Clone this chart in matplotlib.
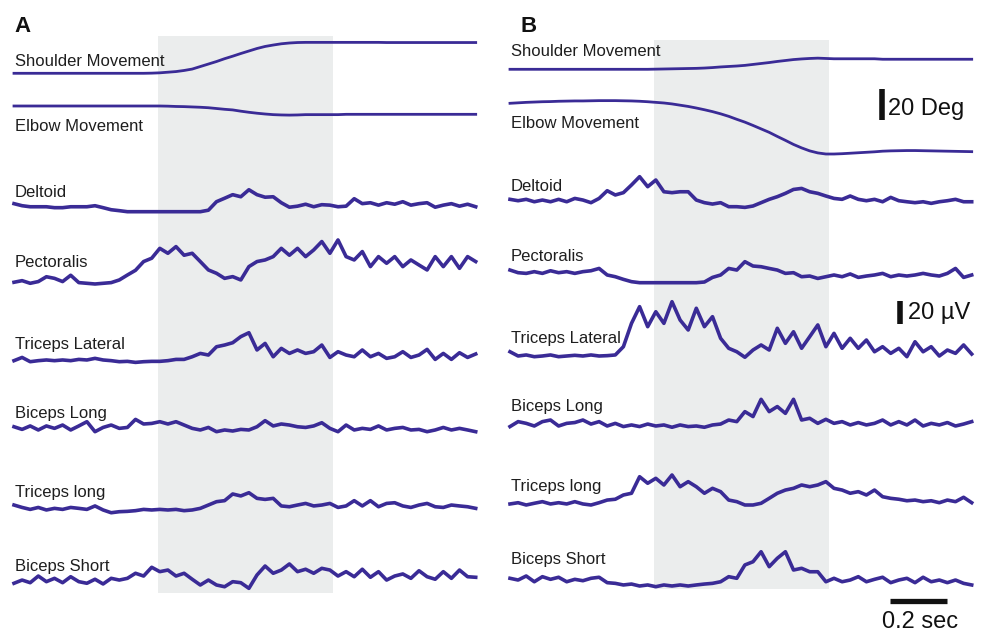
import numpy as np
import matplotlib.pyplot as plt

plt.rcParams['font.family'] = ['Liberation Sans', 'DejaVu Sans']

# sampling of every trace: 58 samples over the 1.62 s shown per panel
N_SAMPLES = 58
DURATION = 1.62
time = np.linspace(0, DURATION, N_SAMPLES)
movement_window = (0.505, 1.118)   # shaded part, s

# joint angles, deg (relative to start)
shoulder_a = [0]*17 + [0.1, 0.3, 0.7, 1.1, 1.8, 2.7, 4.3, 5.9, 7.5, 9.3, 10.9, 12.6, 14.2, 15.8, 17.1,
                       18.0, 18.8, 19.3, 19.6] + [19.7]*10 + [19.6]*12
elbow_a = [0]*19 + [-0.1, -0.3, -0.4, -0.6, -0.8, -1.1, -1.6, -2.1, -2.5, -3.3, -4.0, -4.6, -5.1, -5.5,
                    -5.7, -5.8, -5.7] + [-5.5]*5 + [-5.3]*17
shoulder_b = [0]*18 + [0.1, 0.2, 0.3, 0.4, 0.5, 0.6, 0.8, 1.1, 1.5, 1.8, 2.1, 2.5, 3.1, 3.7, 4.3, 5.0,
                       5.6, 6.2, 6.6, 6.9, 7.1, 6.9] + [6.7]*6 + [6.4]*12
elbow_b = [0, 0.3, 0.6, 0.8, 1.0, 1.1, 1.3, 1.4, 1.5, 1.5, 1.6, 1.7, 1.7, 1.7, 1.6, 1.5, 1.3, 1.0, 0.6,
           0.2, -0.4, -1.2, -2.0, -3.0, -4.1, -5.3, -6.7, -8.3, -10.2, -12.0, -14.1, -16.3, -18.5, -21.1,
           -23.6, -26.2, -28.4, -30.3, -31.6, -32.3, -32.3, -32.1, -31.8, -31.5, -31.2, -30.9, -30.5,
           -30.3, -30.2, -30.1, -30.1, -30.2, -30.3, -30.4, -30.5, -30.6, -30.7, -30.8]

# rectified EMG, uV above resting level
deltoid_a = [7, 5.2, 4.3, 4.3, 4.3, 3.5, 3.5, 4.3, 4.3, 4.3, 5.2, 3.5, 1.7, 0.9] + [0]*10 + [
    1.3, 8.7, 11.7, 14.8, 13, 19.1, 14.8, 12.6, 13, 7.8, 3.9, 4.8, 6.5, 4.3, 6.1, 5.7, 4.3, 4.8, 11.3,
    7, 7.8, 5.7, 7.8, 6.5, 8.7, 5.7, 7, 7.8, 3.9, 5.7, 7, 4.8, 6.5, 4.3]
pectoralis_a = [0.9, 2.3, 0, 1.5, 5.7, 4.3, 1.5, 7, 0.6, 0, -0.6, 0, 0.6, 2.9, 7.2, 11.3, 18.9, 21.8,
                30.4, 26.1, 31.9, 24.4, 26.1, 18.9, 11.6, 8.7, 4.3, 5.8, 2.9, 14.5, 18.9, 20.3, 23.2,
                30.4, 24.4, 30.4, 23.2, 29, 36.3, 26.1, 37.7, 23.2, 20.3, 27.6, 14.5, 23.2, 17.4, 23.2,
                14.5, 20.3, 15.9, 11.6, 23.2, 14.5, 23.2, 13, 23.2, 18.9]
tri_lat_a = [0.9, 3.7, 0, 0.9, 1.5, 0.9, 1.5, 0.9, 2, 1.5, 2.9, 1.5, 0.9, 0, 0.3, -0.6, 0, 0.3, 0.3,
             0.9, 2, 2, 4.3, 7.2, 5.8, 13, 14.5, 16.5, 21.8, 25.2, 10.2, 15.9, 4.3, 11.6, 7.2, 10.2,
             7.2, 8.7, 14.5, 3.7, 8.7, 5.8, 4.3, 10.2, 4.3, 7.2, 2.9, 4.3, 8.7, 3.7, 5.8, 10.7, 2,
             7.2, 2, 7.8, 3.7, 6.7]
bic_long_a = [4.3, 2, 5, 1.5, 5, 2.9, 5.8, 1.5, 5, 8.7, 0, 3.7, 5.8, 2.9, 3.7, 10.7, 6.7, 7.2, 8.7,
              6.7, 8.7, 5.8, 2.9, 1.5, 3.7, 0, 1.5, 0.6, 2, 1.5, 4.3, 9.6, 5, 6.7, 5.8, 4.3, 3.7, 5,
              7.8, 2.9, 0, 5.8, 1.5, 2.9, 2, 5, 1.5, 2.9, 3.7, 1.5, 2, 0, 1.5, 3.7, 1.5, 2.9, 1.5, 0]
tri_long_a = [5.8, 3.7, 2, 3.7, 1.5, 2.9, 2, 3.7, 2.9, 2, 5, 1.5, -0.9, 0, 0.3, 0.9, 2, 1.5, 2, 1.5,
              2, 0.9, 1.5, 2.9, 5.8, 8.7, 9.6, 15.4, 13.7, 16.5, 11.6, 10.7, 11.6, 5, 4.3, 5.8, 7.2,
              5, 5.8, 7.2, 3.7, 5, 9.6, 5, 9.6, 4.3, 7.2, 7.8, 5, 3.7, 5.8, 7.2, 4.3, 3.7, 5.8, 5,
              4.3, 2.9]
bic_short_a = [1.5, 4.3, 2, 7.8, 2.9, 5.8, 2, 7.2, 2.9, 1.5, 5, 0.9, 5.8, 4.3, 5.8, 10.2, 7.8, 15.4,
               11.6, 13, 7.8, 10.2, 5, 0, 4.3, 0, -1.5, 2.9, 2, -2.9, 8.7, 16.5, 10.2, 13, 18.3, 11.6,
               13.7, 10.2, 14.5, 13, 7.8, 11.6, 7.2, 13.7, 6.7, 11.6, 4.3, 7.8, 9.6, 5.8, 12.4, 7.2,
               5, 11.6, 5.8, 13, 7.2, 6.7]

deltoid_b = [6.4, 5.2, 6.4, 4.3, 5.8, 4.3, 6.4, 4.3, 7.2, 5.8, 3.5, 7.2, 13.9, 10.2, 12.2, 18.9, 26.1,
             17.4, 23.2, 13, 12.2, 13, 13, 5.8, 3.5, 2.3, 3.5, 0, 0, -0.6, 0.6, 3.5, 6.4, 8.7, 11.6,
             15, 15.9, 13, 11.6, 9.3, 7.2, 6.4, 9.3, 6.4, 5.2, 6.4, 4.3, 8.1, 5.2, 4.3, 3.5, 4.3, 2.9,
             4.3, 5.2, 6.4, 4.3, 4.3]
pectoralis_b = [11, 8.7, 8.1, 9.6, 8.1, 10.4, 8.7, 9.6, 8.1, 9.6, 10.4, 12.4, 6.7, 5.2, 2.9, 0.9] + \
    [0]*8 + [0.6, 4.6, 6.7, 12.4, 11, 18.3, 14.5, 13.9, 12.4, 11, 8.1, 8.7, 5.2, 5.8, 3.7, 5.2, 6.7,
             5.2, 7.6, 4.6, 5.8, 6.7, 8.1, 5.2, 6.7, 5.8, 6.7, 8.1, 6.7, 5.8, 8.1, 12.4, 4.6, 6.7]
tri_lat_b = [3.7, 0, 0.9, -0.6, 0, 0.9, -0.6, 0, 0.6, 0, 0.9, 0, 0.3, 0.9, 8.1, 28.4, 42.9, 25.5,
             38.5, 28.4, 47.2, 31.3, 22.6, 41.5, 25.5, 34.2, 15.4, 6.7, 3.7, -1.1, 5.2, 9.6, 5.2,
             24.1, 11, 21.1, 6.7, 16.8, 27, 8.1, 19.7, 6.7, 15.4, 6.7, 13.9, 3.7, 8.1, 2.3, 6.7,
             -0.6, 12.4, 3.7, 8.1, 0, 5.2, 2.3, 9.6, 1.7]
bic_long_b = [1.5, 5.8, 4.3, 2, 5.8, 7.2, 2, 4.3, 5, 7.2, 3.7, 5.8, 2, 4.3, 1.5, 2.9, 1.5, 3.7, 2,
              2.9, 0.9, 2.9, 1.5, 2, 0.9, 2.9, 3.7, 7.2, 5.8, 14.5, 10.2, 25.2, 14.5, 18.9, 13, 25.2,
              7.2, 8.7, 4.3, 7.8, 4.3, 5.8, 2.9, 5, 2.9, 4.3, 7.2, 2.9, 5.8, 2.9, 7.2, 2, 4.3, 2.9,
              5, 2, 3.7, 5.8]
tri_long_b = [0.9, 2, 0, 1.5, 2.9, 0.9, 2, 0.9, 2.9, 0.9, 0, 2, 4.3, 5, 8.7, 10.2, 24.6, 18.9, 23.2,
              17.4, 26.1, 15.9, 20.3, 15.9, 10.2, 14.5, 11.6, 4.3, 2.9, 0, 0, 1.5, 5.8, 10.2, 13,
              14.5, 17.4, 15.9, 17.4, 20.3, 14.5, 13, 10.2, 11.6, 8.7, 13, 7.2, 5.8, 5, 3.7, 4.3,
              2.9, 3.7, 2, 4.3, 2.9, 6.7, 2]
bic_short_b = [6.7, 5.2, 8.7, 3.7, 8.1, 5.8, 7.6, 3.7, 5.8, 4.6, 6.7, 7.6, 2.9, 2.3, 0.9, 1.7, 0, 0.9,
               -0.6, 0.9, 0, 0.9, 0, 0.9, 1.7, 2.3, 3.7, 8.1, 6.7, 18.3, 21.1, 29.8, 16.8, 24.1, 29.8,
               13.9, 15.4, 12.4, 12.4, 3.7, 6.7, 3.7, 5.2, 8.1, 3.7, 5.8, 7.6, 2.9, 5.2, 6.7, 2.9,
               7.6, 3.7, 5.2, 2.9, 5.2, 2.3, 0.9]

movement_names = ['Shoulder Movement', 'Elbow Movement']
muscle_names = ['Deltoid', 'Pectoralis', 'Triceps Lateral', 'Biceps Long', 'Triceps long', 'Biceps Short']

# ---- layout (pixel rows of the 981x634 figure) ----
W, H = 981, 634
PX_PER_S = 285.0
PX_PER_UV = 1.15
PX_PER_DEG = 1.57
COLOR = '#3a2b96'
SHADE = '#ebeded'

panels = [
    dict(letter='A', left=14, traces=[shoulder_a, elbow_a, deltoid_a, pectoralis_a, tri_lat_a,
                                      bic_long_a, tri_long_a, bic_short_a],
         rows=[73.3, 106, 211.7, 283.3, 361.7, 431.7, 511.7, 585],
         label_rows=[66, 131, 197, 267, 349.3, 418.3, 496.7, 571],
         shade=(36, 593), letter_dx=0),
    dict(letter='B', left=510, traces=[shoulder_b, elbow_b, deltoid_b, pectoralis_b, tri_lat_b,
                                       bic_long_b, tri_long_b, bic_short_b],
         rows=[69.3, 103.3, 206.7, 282.7, 356, 428.3, 505, 586],
         label_rows=[56, 128.3, 191, 260.7, 343.3, 410.7, 490.7, 564],
         shade=(40, 589), letter_dx=10),
]

fig = plt.figure(figsize=(W / 100, H / 100), dpi=100)
fig.patch.set_facecolor('white')

for p in panels:
    width_px = DURATION * PX_PER_S
    ax = fig.add_axes([p['left'] / W, 0, width_px / W, 1])
    ax.set_xlim(0, DURATION)
    ax.set_ylim(H, 0)
    ax.axis('off')

    top, bottom = p['shade']
    ax.fill_between(movement_window, top, bottom, color=SHADE, lw=0, zorder=0)

    names = movement_names + muscle_names
    for k, (trace, row, lrow, name) in enumerate(zip(p['traces'], p['rows'], p['label_rows'], names)):
        scale = PX_PER_DEG if k < 2 else PX_PER_UV
        y = row - np.asarray(trace) * scale
        ax.plot(time, y, color=COLOR, lw=2.0 if k < 2 else 2.6, solid_joinstyle='round',
                zorder=2, clip_on=False)
        ax.text(0.003, lrow, name, fontsize=12, color='#1e1e1e', va='baseline', ha='left', zorder=3)

    ax.text(p['letter_dx'] / PX_PER_S, 32, p['letter'], fontsize=16, fontweight='bold',
            va='baseline', ha='left', color='#111111')

    if p['letter'] == 'B':
        # scale bars
        x0 = (882 - p['left']) / PX_PER_S
        ax.plot([x0, x0], [89, 89 + 20 * PX_PER_DEG], color='#111111', lw=4, solid_capstyle='butt')
        ax.text((888 - p['left']) / PX_PER_S, 115, '20 Deg', fontsize=17, va='baseline', color='#111111')
        x1 = (900 - p['left']) / PX_PER_S
        ax.plot([x1, x1], [301, 301 + 20 * PX_PER_UV], color='#111111', lw=4, solid_capstyle='butt')
        ax.text((908 - p['left']) / PX_PER_S, 319.3, '20 µV', fontsize=17, va='baseline', color='#111111')
        t0 = (890 - p['left']) / PX_PER_S
        ax.plot([t0, t0 + 0.2], [600.5, 600.5], color='#111111', lw=3.8, solid_capstyle='butt',
                clip_on=False)
        ax.text((882 - p['left']) / PX_PER_S, 628.3, '0.2 sec', fontsize=17, va='baseline', color='#111111')

fig.savefig('out.png', dpi=100, facecolor='white')
